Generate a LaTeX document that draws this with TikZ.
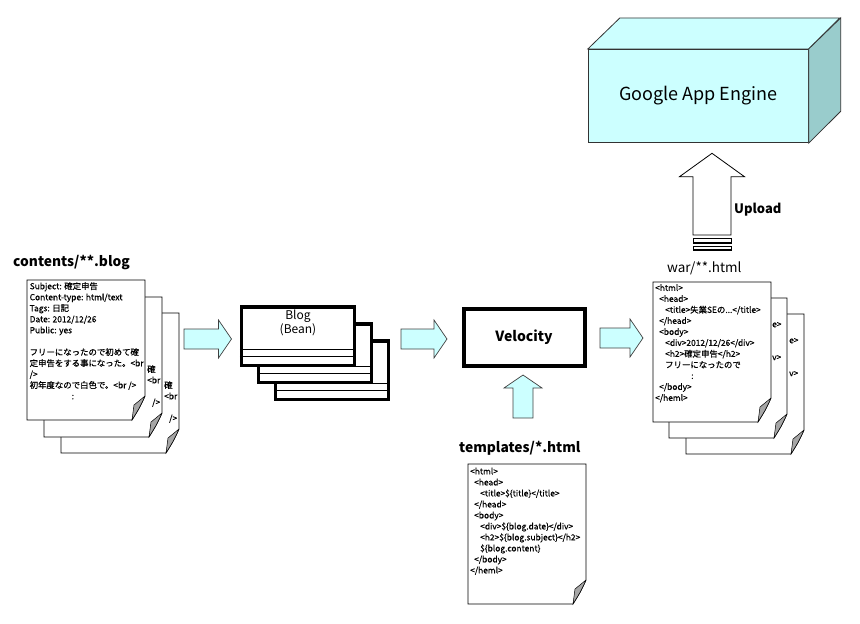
\documentclass[tikz,border=0pt]{standalone}
\usepackage{fontspec}
\setmainfont{Noto Sans CJK JP}
\newfontfamily\sheetfont{Noto Sans CJK JP}[FakeBold=0.6]
\usetikzlibrary{positioning,calc}

\definecolor{lightcyan}{HTML}{CCFFFF}
\definecolor{sidecyan}{HTML}{99CCCC}

\tikzset{
  pagebox/.style={draw=black, fill=white, line width=0.8pt},
  foldbox/.style={draw=black, fill=black!35, line width=0.5pt},
  pagetext/.style={anchor=north west, inner sep=0pt, align=left,
    font=\sheetfont\fontsize{8.4}{11}\selectfont},
  beanbox/.style={draw=black, fill=white, line width=3.5pt,
    minimum width=113pt, minimum height=58.5pt, inner sep=0pt},
  velobox/.style={draw=black, fill=white, line width=4pt,
    minimum width=121pt, minimum height=57.5pt,
    font=\fontsize{14}{14}\selectfont\bfseries},
  enginebox/.style={draw=black!80, line width=0.8pt},
  filelabel/.style={anchor=west, inner sep=0pt,
    font=\fontsize{13.8}{14}\selectfont\bfseries},
  fatarrowbox/.style={draw=black!75, fill=lightcyan, line width=0.7pt},
  pics/fatarrow/.style={code={
    \draw[fatarrowbox] (0,-10) -- ({#1-13},-10) -- ({#1-13},-19) -- (#1,0)
      -- ({#1-13},19) -- ({#1-13},10) -- (0,10) -- cycle;}},
}

% one sheet with a folded corner: name, top left, text position, text
\newcommand\docpage[4]{%
  \begin{scope}[shift={(#2)}]
    \draw[pagebox] (0,0) -- (118,0) -- (118,116) .. controls (113,127) .. (105,140)
      -- (0,140) -- cycle;
    \begin{scope}
      \clip (0,0) rectangle (118,140);
      \node[pagetext] (#1) at (#3) {#4};
    \end{scope}
    \draw[foldbox] (118,116) -- (107,125) -- (105,140) .. controls (113,127) .. (118,116);
  \end{scope}}

% bean box with its two compartments
\newcommand\beanbox[2]{%
  \node[beanbox] (#1) at (#2) {};
  \draw[thin] ($(#1.west)+(0,13)$) -- ($(#1.east)+(0,13)$);
  \draw[thin] ($(#1.west)+(0,20.5)$) -- ($(#1.east)+(0,20.5)$);}

\newcommand\blogtext{Subject: 確定申告\\
Content-type: html/text\\
Tags: 日記\\
Date: 2012/12/26\\
Public: yes\\[11pt]
フリーになったので初めて確\\
定申告をする事になった。<br\\
/>\\
初年度なので白色で。<br />\\
\hspace*{42pt}:}

\newcommand\wartext{<html>\\
\hspace*{4pt}<head>\\
\hspace*{10pt}<title>失業SEの...</title>\\
\hspace*{4pt}</head>\\
\hspace*{4pt}<body>\\
\hspace*{10pt}<div>2012/12/26</div>\\
\hspace*{10pt}<h2>確定申告</h2>\\
\hspace*{10pt}フリーになったので\\
\hspace*{36pt}:\\
\hspace*{4pt}</body>\\
</heml>}

\newcommand\tpltext{<html>\\
\hspace*{4pt}<head>\\
\hspace*{10pt}<title>\$\{title\}</title>\\
\hspace*{4pt}</head>\\
\hspace*{4pt}<body>\\
\hspace*{10pt}<div>\$\{blog.date\}</div>\\
\hspace*{10pt}<h2>\$\{blog.subject\}</h2>\\
\hspace*{10pt}\$\{blog.content\}\\
\hspace*{4pt}</body>\\
</heml>}

% what shows of the sheets behind
\newcommand\blogpeek{確\\<br\\[11pt]\hspace*{5pt}/>}
\newcommand\warpeek{e>\\[22pt]v>}

\begin{document}
\begin{tikzpicture}[x=1pt, y=-1pt]
\useasboundingbox (0,0) rectangle (860,624);

% blog sources
\node[filelabel] (contlabel) at (13,263) {contents/**.blog};
\docpage{cont3}{61,313}{103,68}{\blogpeek}
\docpage{cont2}{44,297}{103,68}{\blogpeek}
\docpage{cont1}{27,280}{2.5,2}{\blogtext}

\pic at (184,339) {fatarrow=47.5};

% beans
\beanbox{bean3}{332,370}
\beanbox{bean2}{315,353}
\beanbox{bean1}{298,336}
\node[below=5pt of bean1.north, align=center, inner sep=0pt,
  font=\fontsize{12}{12.5}\selectfont] (beanname) {Blog\\(Bean)};

\pic at (401,339) {fatarrow=46};

% velocity and its templates
\node[velobox] (velocity) at (524,337.5) {Velocity};
\pic[rotate=90] at (523,418) {fatarrow=43};
\node[filelabel] (tpllabel) at (459,448) {templates/*.html};
\docpage{tpl}{468,464}{2,3.5}{\tpltext}

\pic at (600,338) {fatarrow=43};

% generated pages
\node[filelabel, font=\fontsize{13.5}{14}\selectfont] (warlabel) at (667,268) {war/**.html};
\docpage{war3}{686,314}{103,24}{\warpeek}
\docpage{war2}{669,298}{103,24}{\warpeek}
\docpage{war1}{653,282}{2,2}{\wartext}

% upload
\draw[draw=black, fill=white, line width=0.8pt] (693,235) -- (693,176.7) -- (679.5,176.7)
  -- (712,153.3) -- (744.5,176.7) -- (731,176.7) -- (731,235) -- cycle;
\draw[line width=1.6pt] (693.5,238.5) rectangle (731.5,243);
\draw[line width=1.6pt] (693.5,246.3) rectangle (731.5,250);
\node[filelabel, font=\fontsize{13}{14}\selectfont\bfseries] (uploadlabel) at (734,210) {Upload};

% app engine
\node[enginebox, fill=lightcyan, minimum width=220pt, minimum height=93.4pt,
  font=\fontsize{18}{18}\selectfont] (gae) at (698.3,96) {Google App Engine};
\draw[enginebox, fill=lightcyan] (gae.north west) -- ++(32,-31) -- ++(220,0)
  -- (gae.north east) -- cycle;
\draw[enginebox, fill=sidecyan] (gae.north east) -- ++(32,-31) -- ++(0,93.4)
  -- (gae.south east) -- cycle;
\end{tikzpicture}
\end{document}
